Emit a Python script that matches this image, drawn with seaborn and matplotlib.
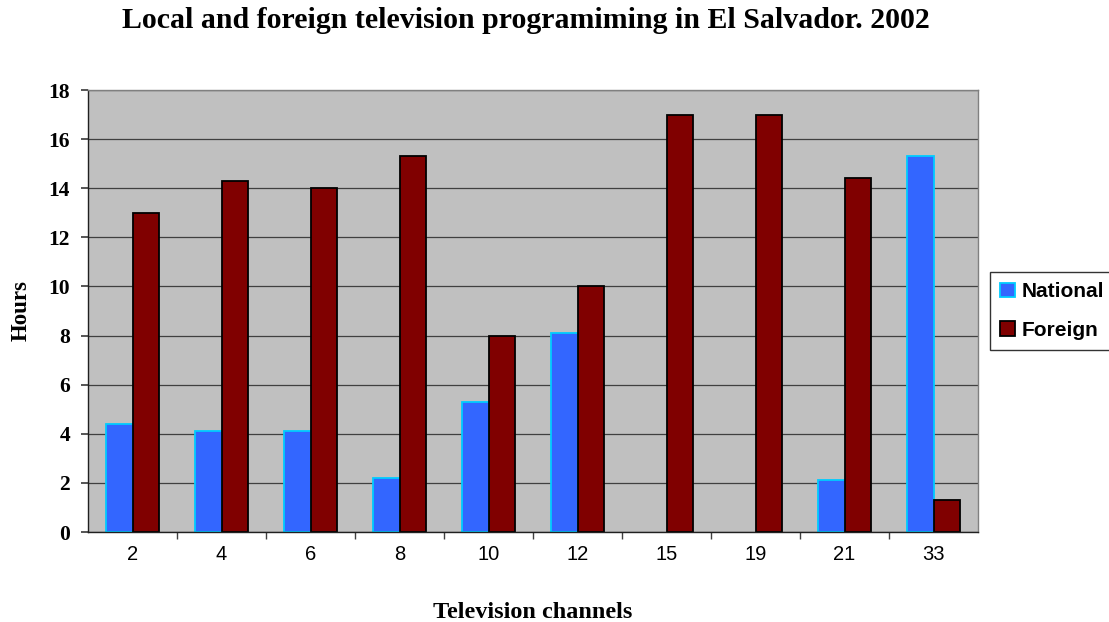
import matplotlib
matplotlib.use("Agg")
import matplotlib.pyplot as plt
import seaborn as sns
import pandas as pd
from matplotlib.patches import Patch

channels = ["2", "4", "6", "8", "10", "12", "15", "19", "21", "33"]
national = [4.4, 4.1, 4.1, 2.2, 5.3, 8.1, 0, 0, 2.1, 15.3]
foreign = [13.0, 14.3, 14.0, 15.3, 8.0, 10.0, 17.0, 17.0, 14.4, 1.3]
series_names = ["National", "Foreign"]

df = pd.DataFrame({
    "channel": channels * 2,
    "hours": national + foreign,
    "series": [series_names[0]] * len(channels) + [series_names[1]] * len(channels),
})

sns.set_theme(style="white")
plt.rcParams.update({"text.color": "black", "axes.labelcolor": "black",
                     "xtick.color": "black", "ytick.color": "black"})
fig = plt.figure(figsize=(11.09, 6.22), dpi=100)
ax = fig.add_axes([88 / 1109, 90 / 622, (978 - 88) / 1109, (532 - 90) / 622])
ax.set_facecolor("#C0C0C0")

fills = {"National": "#3366FF", "Foreign": "#800000"}
edges = {"National": "#00CCFF", "Foreign": "#000000"}

sns.barplot(data=df, x="channel", y="hours", hue="series", order=channels,
            hue_order=series_names, palette=fills, width=0.6, gap=0,
            saturation=1, ax=ax, legend=False)

for cont, name in zip(ax.containers, series_names):
    for p in cont:
        p.set_edgecolor(edges[name])
        p.set_linewidth(1.3)
        if p.get_height() == 0:
            p.set_visible(False)

ax.set_xlim(-0.5, len(channels) - 0.5)
ax.set_ylim(0, 18)
ax.set_yticks(range(0, 19, 2))
ax.yaxis.grid(True, color="#404040", linewidth=0.9)
ax.set_axisbelow(True)

ax.tick_params(axis="x", which="major", length=0, labelsize=14.5, pad=9, labelcolor="black")
ax.set_xticks([i + 0.5 for i in range(len(channels) - 1)], minor=True)
ax.tick_params(axis="x", which="minor", length=5, color="#404040", direction="out", bottom=True)
ax.tick_params(axis="y", length=5, color="#404040", direction="out", left=True, pad=8,
               labelcolor="black")
for lbl in ax.get_xticklabels():
    lbl.set_family("Liberation Sans")
for lbl in ax.get_yticklabels():
    lbl.set_family("Liberation Serif")
    lbl.set_fontweight("bold")
    lbl.set_fontsize(15.5)

for s in ["top", "right"]:
    ax.spines[s].set_color("#808080")
for s in ["left", "bottom"]:
    ax.spines[s].set_color("#202020")
for s in ax.spines.values():
    s.set_linewidth(1.0)

ax.set_xlabel("Television channels", family="Liberation Serif", fontweight="bold",
              fontsize=17.5, labelpad=28, color="black")
ax.set_ylabel("Hours", family="Liberation Serif", fontweight="bold", fontsize=16.5,
              labelpad=12, color="black")

fig.text(0.474, 1 - 21 / 622, "Local and foreign television programiming in El Salvador. 2002",
         ha="center", va="center", family="Liberation Serif", fontweight="bold",
         fontsize=21.5, color="black")

handles = [Patch(facecolor=fills[n], edgecolor=edges[n], linewidth=1.3) for n in series_names]
leg = fig.legend(handles, series_names, loc="center left",
                 bbox_to_anchor=(990 / 1109, 1 - 311 / 622), frameon=True,
                 prop={"family": "Liberation Sans", "weight": "bold", "size": 15},
                 handlelength=0.7, handleheight=0.7, handletextpad=0.3,
                 borderpad=0.5, labelspacing=0.95, fancybox=False, borderaxespad=0)
leg.get_frame().set_edgecolor("#000000")
leg.get_frame().set_linewidth(1.0)
for t in leg.get_texts():
    t.set_color("black")

fig.savefig("out.png", dpi=100, facecolor="white")
